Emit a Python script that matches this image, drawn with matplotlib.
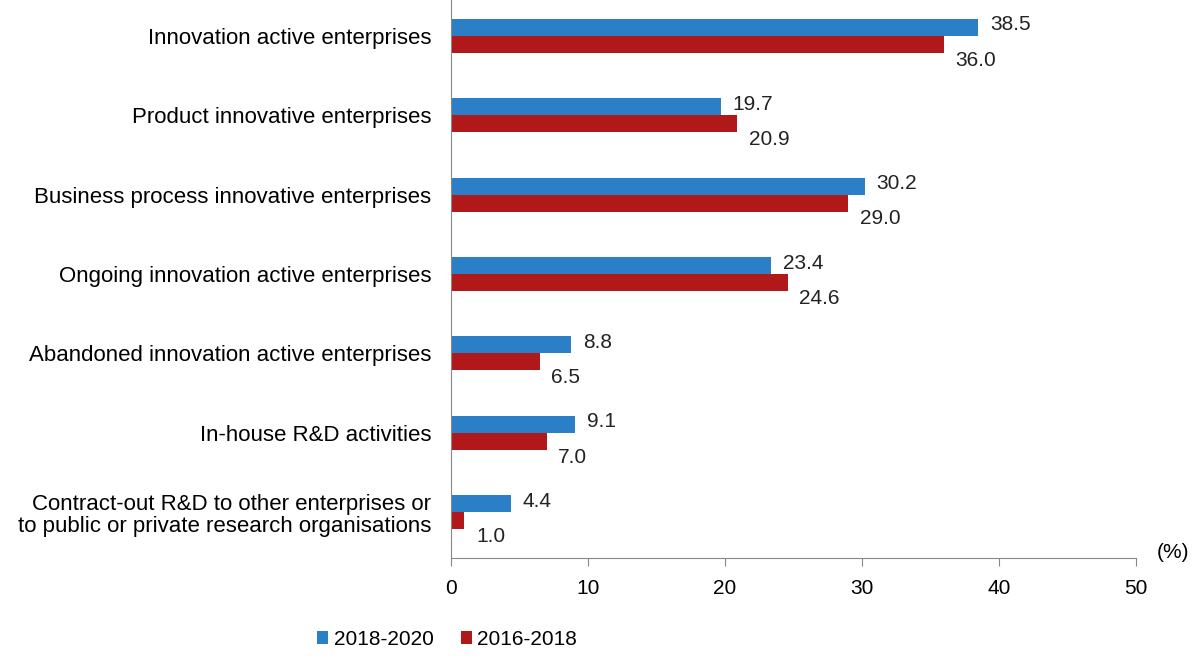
import matplotlib.pyplot as plt
import numpy as np

plt.rcParams['font.family'] = ['Liberation Sans', 'DejaVu Sans']

categories = ['Innovation active enterprises',
              'Product innovative enterprises',
              'Business process innovative enterprises',
              'Ongoing innovation active enterprises',
              'Abandoned innovation active enterprises',
              'In-house R&D activities',
              'Contract-out R&D to other enterprises or\nto public or private research organisations']
v2020 = [38.5, 19.7, 30.2, 23.4, 8.8, 9.1, 4.4]
v2018 = [36.0, 20.9, 29.0, 24.6, 6.5, 7.0, 1.0]
series = ['2018-2020', '2016-2018']

blue = '#2a7fc6'
red = '#b0181a'
fs = 15

fig = plt.figure(figsize=(11.92, 6.56), dpi=100)
ax = fig.add_axes([0.378, 0.149, 0.575, 0.851])

y = np.arange(len(categories))
h = 0.214
ax.barh(y - h / 2, v2020, height=h, color=blue, label=series[0])
ax.barh(y + h / 2, v2018, height=h, color=red, label=series[1])

for yi, a, b in zip(y, v2020, v2018):
    ax.text(a + 0.85, yi - h / 2 - 0.03, f'{a:.1f}', va='center', ha='left', fontsize=fs, color='#222222')
    ax.text(b + 0.85, yi + h / 2 + 0.2, f'{b:.1f}', va='center', ha='left', fontsize=fs, color='#222222')

ax.set_ylim(len(categories) - 1 + 0.58, -0.45)
ax.set_xlim(0, 50)
ax.set_xticks([0, 10, 20, 30, 40, 50])
ax.set_yticks(y)
ax.set_yticklabels(categories, fontsize=16, multialignment='right', linespacing=1.1)
ax.tick_params(axis='y', length=0, pad=14)
ax.tick_params(axis='x', length=6, color='#888888', labelsize=fs, pad=9)

for s in ['top', 'right']:
    ax.spines[s].set_visible(False)
ax.spines['left'].set_color('#888888')
ax.spines['bottom'].set_color('#888888')

fig.text(0.998, 0.158, '(%)', fontsize=fs, ha='right', va='center')

fig.legend(loc='center', bbox_to_anchor=(0.375, 0.025), ncol=2, frameon=False,
           fontsize=fs, handlelength=0.55, handleheight=0.55, handletextpad=0.25,
           columnspacing=1.3)

fig.savefig('out.png', dpi=100, facecolor='white')
